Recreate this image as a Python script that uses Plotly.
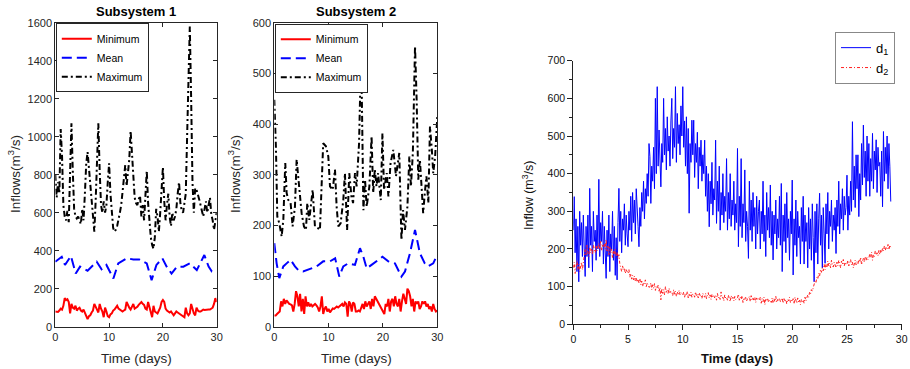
import numpy as np
import plotly.graph_objects as go

# ---------------- Subsystem 1 (values every 0.25 day, days 0..30) ----------------
s1_max = [800, 680, 760, 700, 1040, 900, 640, 580, 560, 610, 550, 900, 1070, 820, 620, 580,
          570, 580, 560, 540, 620, 560, 700, 860, 920, 840, 760, 640, 580, 500, 660, 900,
          1070, 820, 640, 600, 660, 600, 640, 760, 860, 700, 580, 520, 500, 510, 530, 560,
          600, 640, 700, 780, 850, 740, 800, 880, 1030, 920, 780, 680, 650, 640, 670, 690,
          580, 640, 560, 700, 820, 650, 540, 470, 430, 410, 470, 620, 580, 500, 600, 760,
          840, 660, 560, 640, 700, 580, 530, 600, 560, 580, 620, 700, 760, 650, 610, 600,
          640, 700, 1000, 1400, 1580, 1200, 760, 600, 730, 720, 700, 670, 640, 600, 580, 620,
          660, 600, 640, 680, 590, 560, 510, 560, 600]
s1_min = [80, 80, 78, 85, 95, 90, 110, 150, 140, 145, 130, 70, 120, 100, 95, 110,
          85, 95, 100, 85, 80, 90, 70, 55, 40, 55, 60, 75, 85, 120, 100, 90,
          75, 120, 95, 80, 50, 100, 80, 55, 50, 65, 70, 85, 90, 100, 110, 95,
          90, 85, 80, 85, 90, 130, 110, 100, 90, 110, 120, 95, 100, 105, 115, 125,
          130, 120, 115, 95, 90, 130, 100, 85, 50, 110, 80, 75, 70, 85, 100, 130,
          140, 130, 95, 85, 80, 75, 80, 70, 60, 70, 80, 75, 70, 65, 60, 55,
          50, 100, 70, 60, 70, 120, 90, 70, 60, 100, 85, 80, 80, 85, 90, 88,
          90, 90, 90, 90, 95, 100, 120, 150, 130]
s1_mean_days = [0, 1.2, 1.8, 2.9, 3.8, 4.6, 6.0, 7.7, 8.6, 9.5, 10.8, 11.7, 13.3, 14.5, 15.6,
                17.0, 17.9, 18.8, 19.9, 20.7, 21.6, 22.6, 23.8, 25.0, 26.3, 27.7, 28.5, 29.1, 30]
s1_mean = [342, 368, 325, 372, 280, 316, 295, 342, 302, 325, 254, 333, 360, 354, 354,
           333, 245, 325, 360, 316, 280, 316, 316, 333, 298, 377, 316, 290, 290]

# ---------------- Subsystem 2 ----------------
s2_max_days = [0.0, 0.31, 0.55, 0.92, 1.35, 1.66, 2.02, 2.27, 2.58, 3.0, 3.37, 3.8, 4.11, 4.6,
               5.03, 5.46, 5.83, 6.07, 6.44, 7.06, 7.48, 8.1, 8.4, 9.0, 9.5, 9.94, 10.25, 10.74,
               11.17, 11.47, 11.78, 12.2, 12.7, 13.0, 13.4, 13.8, 14.2, 14.5, 14.85, 15.15, 15.6,
               15.9, 16.1, 16.4, 16.7, 17.0, 17.5, 17.9, 18.2, 18.5, 18.8, 19.1, 19.6, 19.9, 20.2,
               20.7, 21.0, 21.4, 21.9, 22.4, 23.0, 23.4, 23.7, 24.05, 24.5, 24.85, 25.15, 25.5,
               25.9, 26.2, 26.5, 26.8, 27.1, 27.4, 27.7, 28.0, 28.35, 28.65, 29.0, 29.25, 29.6, 30.0]
s2_max = [448, 350, 218, 204, 178, 211, 323, 264, 250, 244, 198, 237, 330, 277,
          224, 198, 191, 244, 211, 270, 198, 194, 191, 362, 356, 336, 277, 270,
          310, 237, 198, 204, 250, 303, 191, 303, 257, 244, 303, 277, 362,
          508, 461, 230, 290, 237, 277, 376, 264, 310, 277, 303, 250, 382, 270,
          303, 257, 323, 349, 297, 343, 171, 230, 191, 237, 336, 277, 343,
          554, 448, 290, 330, 277, 224, 264, 297, 244, 395, 349, 303, 336, 415]
s2_min = [22, 22, 25, 28, 30, 50, 40, 55, 45, 52, 48, 45, 44, 42, 30, 45,
          70, 60, 40, 65, 30, 55, 25, 60, 40, 48, 40, 45, 40, 42, 45, 42,
          38, 30, 40, 60, 25, 35, 40, 30, 35, 28, 32, 36, 35, 38, 40, 38,
          40, 42, 45, 40, 48, 45, 20, 50, 45, 30, 48, 45, 30, 30, 32, 30,
          40, 45, 35, 50, 40, 45, 50, 35, 55, 40, 60, 55, 50, 45, 40, 35,
          30, 25, 45, 40, 55, 30, 50, 55, 40, 60, 45, 40, 55, 30, 50, 65,
          55, 45, 75, 70, 60, 40, 55, 30, 50, 45, 50, 35, 40, 50, 45, 50,
          40, 45, 35, 40, 30, 45, 35, 30, 32]
s2_mean_days = [0, 0.43, 0.92, 1.66, 2.27, 3.0, 3.8, 4.4, 5.3, 6.9, 7.8, 9.0, 10.25, 11.2, 11.96,
                12.7, 13.6, 14.85, 15.77, 16.4, 17.0, 17.9, 18.8, 19.9, 20.98, 22.2, 23.4, 24.05,
                24.97, 25.9, 26.8, 27.7, 28.3, 29.25, 30]
s2_mean = [165, 125, 96, 119, 125, 132, 119, 112, 109, 115, 119, 129, 129, 135, 99,
           119, 125, 122, 155, 138, 115, 122, 129, 138, 129, 125, 99, 109,
           145, 191, 145, 125, 119, 125, 142]

# ---------------- Right panel: d1, d2 (12 samples per day, day 0..29) ----------------
d1_by_day = [
    [250, 339, 190, 280, 140, 260, 113, 300, 210, 270, 180, 290],
    [200, 127, 260, 180, 290, 150, 361, 210, 260, 140, 300, 220],
    [250, 170, 290, 200, 385, 180, 270, 220, 300, 160, 260, 210],
    [122, 250, 180, 290, 140, 240, 200, 300, 170, 260, 130, 230],
    [118, 270, 361, 220, 300, 190, 280, 250, 320, 210, 290, 240],
    [206, 300, 250, 340, 220, 350, 270, 330, 240, 360, 280, 260],
    [206, 310, 260, 350, 300, 380, 280, 360, 321, 400, 340, 480],
    [445, 321, 420, 380, 470, 360, 600, 400, 631, 420, 516, 440],
    [365, 480, 430, 600, 450, 520, 410, 551, 460, 500, 420, 540],
    [600, 440, 520, 470, 631, 430, 560, 480, 530, 450, 580, 500],
    [631, 470, 540, 420, 551, 400, 520, 295, 480, 430, 542, 450],
    [542, 390, 480, 430, 510, 360, 470, 420, 489, 380, 450, 400],
    [489, 340, 420, 300, 400, 259, 380, 320, 430, 290, 360, 330],
    [489, 268, 380, 300, 420, 250, 350, 290, 400, 270, 340, 300],
    [440, 250, 350, 280, 400, 260, 330, 290, 380, 250, 320, 270],
    [467, 206, 340, 260, 440, 230, 320, 270, 410, 220, 300, 260],
    [175, 380, 250, 330, 220, 350, 260, 310, 200, 340, 240, 300],
    [330, 200, 300, 240, 380, 220, 290, 180, 350, 250, 310, 230],
    [370, 210, 300, 171, 290, 240, 330, 200, 280, 230, 340, 210],
    [374, 140, 290, 220, 320, 190, 350, 230, 280, 170, 300, 240],
    [383, 131, 280, 210, 330, 180, 300, 230, 260, 160, 310, 220],
    [340, 160, 290, 220, 270, 150, 310, 200, 280, 170, 320, 230],
    [113, 300, 190, 320, 160, 280, 348, 210, 290, 150, 310, 240],
    [162, 320, 240, 350, 200, 300, 260, 330, 220, 290, 250, 310],
    [188, 330, 260, 380, 240, 320, 280, 360, 250, 340, 290, 310],
    [396, 250, 340, 290, 380, 300, 538, 330, 420, 310, 450, 360],
    [450, 286, 400, 330, 480, 370, 529, 390, 460, 340, 500, 380],
    [480, 340, 440, 380, 507, 360, 460, 410, 490, 350, 470, 420],
    [430, 340, 460, 312, 512, 380, 470, 400, 500, 360, 480, 420],
    [326],
]
d2_by_day = [
    [150, 165, 135, 155, 170, 145, 160, 140, 150, 165, 145, 160],
    [175, 200, 185, 210, 190, 180, 205, 190, 200, 185, 210, 195],
    [190, 210, 195, 205, 215, 200, 220, 195, 210, 205, 215, 200],
    [225, 195, 210, 185, 205, 190, 200, 175, 195, 185, 200, 180],
    [190, 175, 185, 160, 150, 140, 155, 145, 150, 135, 145, 140],
    [135, 145, 125, 135, 120, 130, 118, 128, 115, 125, 112, 120],
    [110, 122, 105, 115, 100, 112, 108, 118, 100, 110, 104, 98],
    [100, 110, 92, 105, 96, 108, 90, 100, 95, 104, 88, 98],
    [65, 95, 82, 92, 78, 100, 85, 90, 80, 96, 84, 88],
    [85, 76, 92, 80, 88, 74, 86, 80, 90, 78, 84, 80],
    [78, 86, 72, 82, 76, 88, 70, 82, 75, 85, 72, 80],
    [80, 72, 86, 74, 80, 70, 84, 76, 78, 68, 82, 76],
    [72, 82, 68, 78, 84, 70, 78, 66, 80, 72, 76, 70],
    [76, 64, 82, 70, 74, 66, 86, 70, 72, 62, 78, 70],
    [72, 64, 78, 68, 60, 76, 68, 72, 62, 74, 66, 70],
    [70, 80, 64, 72, 66, 76, 58, 70, 66, 74, 62, 68],
    [68, 74, 60, 76, 64, 70, 62, 72, 58, 70, 64, 68],
    [64, 72, 56, 68, 60, 72, 52, 66, 62, 70, 58, 64],
    [64, 58, 70, 56, 68, 60, 74, 58, 66, 62, 70, 60],
    [62, 70, 56, 68, 60, 66, 54, 66, 62, 72, 58, 64],
    [60, 68, 54, 72, 60, 56, 70, 58, 64, 52, 66, 60],
    [65, 56, 72, 62, 70, 78, 72, 85, 80, 92, 88, 100],
    [105, 115, 110, 125, 120, 135, 128, 145, 138, 150, 142, 160],
    [145, 160, 150, 168, 155, 162, 150, 170, 158, 152, 165, 155],
    [150, 165, 155, 170, 158, 150, 168, 160, 172, 155, 165, 158],
    [160, 170, 155, 168, 172, 158, 165, 150, 162, 170, 158, 166],
    [160, 172, 165, 178, 158, 170, 175, 165, 180, 170, 178, 172],
    [175, 188, 178, 192, 170, 185, 180, 195, 184, 190, 182, 196],
    [185, 198, 190, 202, 195, 208, 196, 205, 200, 212, 198, 210],
    [205],
]

d1 = [v for day in d1_by_day for v in day]
d2 = [v for day in d2_by_day for v in day]
t_d1 = np.arange(len(d1)) / 12.0
t_d2 = np.arange(len(d2)) / 12.0
t_s1_max = np.linspace(0, 30, len(s1_max))
t_s1_min = np.linspace(0, 30, len(s1_min))
t_s2_min = np.linspace(0, 30, len(s2_min))

W, H = 910, 369
FONT = "Liberation Sans, Arial, sans-serif"
AX = "#262626"

def px(x):
    return x / W

def py(y):
    return 1 - y / H

fig = go.Figure()

dash_mean = "10px,5px"
dash_max = "6px,3px,2px,3px"

# Subsystem 1
fig.add_trace(go.Scatter(x=t_s1_min, y=s1_min, mode="lines", name="Minimum",
                         line=dict(color="#ff0000", width=2), xaxis="x", yaxis="y", legend="legend"))
fig.add_trace(go.Scatter(x=s1_mean_days, y=s1_mean, mode="lines", name="Mean",
                         line=dict(color="#0000ff", width=2, dash=dash_mean), xaxis="x", yaxis="y", legend="legend"))
fig.add_trace(go.Scatter(x=t_s1_max, y=s1_max, mode="lines", name="Maximum",
                         line=dict(color="#000000", width=2, dash=dash_max), xaxis="x", yaxis="y", legend="legend"))
# Subsystem 2
fig.add_trace(go.Scatter(x=t_s2_min, y=s2_min, mode="lines", name="Minimum",
                         line=dict(color="#ff0000", width=2), xaxis="x2", yaxis="y2", legend="legend2"))
fig.add_trace(go.Scatter(x=s2_mean_days, y=s2_mean, mode="lines", name="Mean",
                         line=dict(color="#0000ff", width=2, dash=dash_mean), xaxis="x2", yaxis="y2", legend="legend2"))
fig.add_trace(go.Scatter(x=s2_max_days, y=s2_max, mode="lines", name="Maximum",
                         line=dict(color="#000000", width=2, dash=dash_max), xaxis="x2", yaxis="y2", legend="legend2"))
# Right panel
fig.add_trace(go.Scatter(x=t_d1, y=d1, mode="lines", name="d<sub>1</sub>",
                         line=dict(color="#0000ff", width=1), xaxis="x3", yaxis="y3", legend="legend3"))
fig.add_trace(go.Scatter(x=t_d2, y=d2, mode="lines", name="d<sub>2</sub>",
                         line=dict(color="#ff2020", width=1, dash="3px,2px,1px,2px"), xaxis="x3", yaxis="y3", legend="legend3"))

ydom12 = [py(326.7), py(22.7)]
mat_ax = dict(showline=True, linecolor=AX, linewidth=1, mirror="ticks", ticks="inside", ticklen=4,
              tickcolor=AX, showgrid=False, zeroline=False, tickfont=dict(family=FONT, size=11, color=AX))
org_ax = dict(showline=True, linecolor="#222222", linewidth=1.2, ticks="outside", ticklen=5,
              tickcolor="#222222", showgrid=False, zeroline=False,
              tickfont=dict(family=FONT, size=10.5, color="#111111"))
fig.update_layout(
    width=W, height=H, margin=dict(l=0, r=0, t=0, b=0, autoexpand=False),
    paper_bgcolor="white", plot_bgcolor="white",
    font=dict(family=FONT),
    xaxis=dict(domain=[px(55.3), px(216.7)], range=[0, 30], tickvals=[0, 10, 20, 30], anchor="y", **mat_ax),
    yaxis=dict(domain=ydom12, range=[0, 1600], dtick=200, anchor="x", **mat_ax),
    xaxis2=dict(domain=[px(274.3), px(437.3)], range=[0, 30], tickvals=[0, 10, 20, 30], anchor="y2", **mat_ax),
    yaxis2=dict(domain=ydom12, range=[0, 600], dtick=100, anchor="x2", **mat_ax),
    xaxis3=dict(domain=[px(573.3), px(901.7)], range=[0, 30], dtick=5, anchor="y3",
                minor=dict(ticks="outside", ticklen=3, dtick=2.5, tickcolor="#222222"), **org_ax),
    yaxis3=dict(domain=[py(324.3), py(60.7)], range=[0, 700], dtick=100, anchor="x3",
                minor=dict(ticks="outside", ticklen=3, dtick=50, tickcolor="#222222"), **org_ax),
    legend=dict(x=px(55.8), y=py(23.2), xanchor="left", yanchor="top", bgcolor="white",
                bordercolor=AX, borderwidth=1, font=dict(family=FONT, size=10.5, color="#000"),
                itemwidth=30, tracegroupgap=0),
    legend2=dict(x=px(274.8), y=py(23.8), xanchor="left", yanchor="top", bgcolor="white",
                 bordercolor=AX, borderwidth=1, font=dict(family=FONT, size=10.5, color="#000"),
                 itemwidth=30, tracegroupgap=0),
    legend3=dict(x=px(895), y=py(31.7), xanchor="right", yanchor="top", bgcolor="white",
                 bordercolor="#888888", borderwidth=1, font=dict(family=FONT, size=13, color="#000"),
                 itemwidth=30, tracegroupgap=0),
    showlegend=True,
)

ann = []
def add_text(text, x, y, size, bold=False, angle=0, color=AX):
    ann.append(dict(text=("<b>%s</b>" % text) if bold else text, x=px(x), y=py(y), xref="paper", yref="paper",
                    showarrow=False, textangle=angle, xanchor="center", yanchor="middle",
                    font=dict(family=FONT, size=size, color=color)))

add_text("Subsystem 1", 136, 11, 13, bold=True, color="#000")
add_text("Subsystem 2", 356, 11, 13, bold=True, color="#000")
add_text("Time (days)", 136, 358, 13.5)
add_text("Time (days)", 356, 358, 13.5)
add_text("Inflows(m<sup>3</sup>/s)", 14, 174, 13.5, angle=-90)
add_text("Inflows(m<sup>3</sup>/s)", 234, 174, 13.5, angle=-90)
add_text("Time (days)", 737, 358, 13, bold=True, color="#111")
add_text("Inflow (m<sup>3</sup>/s)", 528, 196, 12.5, angle=-90, color="#111")
fig.update_layout(annotations=ann)

fig.write_html("out.html", config={"displayModeBar": False},
               post_script="document.body.style.margin='0';document.body.style.overflow='hidden';")
